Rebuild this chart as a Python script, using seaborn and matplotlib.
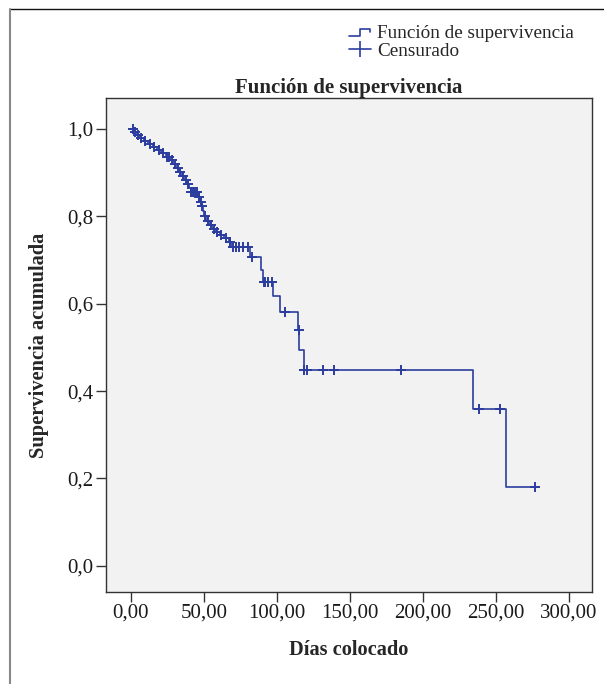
import numpy as np
import pandas as pd
import matplotlib
matplotlib.use("Agg")
import matplotlib.pyplot as plt
import seaborn as sns
from matplotlib.lines import Line2D
from matplotlib.legend_handler import HandlerBase
from matplotlib.ticker import FuncFormatter

# event times (days) and survival after each event
event_days = [0, 2, 4, 6, 9, 12, 15, 18, 21, 24, 27, 29, 31, 33, 35, 37, 38.5, 40, 41,
              46.5, 47.5, 48.5, 49.5, 50.5, 52, 54, 56, 58, 61, 64, 67, 69,
              82, 89.5, 90.5, 97.5, 102, 114.6, 115.5, 118.5, 234.7, 256.8]
survival = [1.0, 0.993, 0.986, 0.979, 0.972, 0.965, 0.958, 0.951, 0.944, 0.937, 0.928,
            0.919, 0.910, 0.901, 0.892, 0.883, 0.874, 0.865, 0.856,
            0.845, 0.834, 0.823, 0.812, 0.801, 0.790, 0.780, 0.772, 0.765, 0.758,
            0.750, 0.742, 0.731,
            0.708, 0.677, 0.650, 0.617, 0.582, 0.540, 0.494, 0.448, 0.359, 0.180]
# censored observations (days)
censored_days = [1.5, 3, 5, 7, 10, 13, 16, 19, 22, 25, 26, 28, 30, 32, 34, 36, 37.5, 39,
                 41.5, 42.5, 43.5, 44.5, 45.5, 47, 48, 49, 51, 53, 55, 57, 59, 62, 65,
                 68, 70, 72, 74, 77, 80, 83, 91, 92, 94, 97, 105.5, 115, 119, 121,
                 132, 139.5, 185.5, 238.6, 252.9, 277]

blue = "#2b3d9e"

curve = pd.DataFrame({"dias": event_days + [277], "surv": survival + [survival[-1]]})
idx = np.searchsorted(event_days, censored_days, side="right") - 1
cens = pd.DataFrame({"dias": censored_days, "surv": np.array(survival)[idx]})

sns.set_style("ticks")
plt.rcParams["font.family"] = ["Liberation Serif", "DejaVu Serif"]

fig = plt.figure(figsize=(6.04, 6.84), dpi=100)
ax = fig.add_axes([0.1755, 0.1345, 0.8045, 0.7222])
ax.set_facecolor("#f2f2f2")

sns.lineplot(data=curve, x="dias", y="surv", drawstyle="steps-post", color=blue,
             linewidth=1.2, estimator=None, sort=False, ax=ax)
sns.scatterplot(data=cens, x="dias", y="surv", marker="+", s=50, color=blue,
                linewidth=1.4, ax=ax, zorder=3)

ax.set_xlim(-17, 316)
ax.set_ylim(-0.06, 1.071)
ax.set_xticks([0, 50, 100, 150, 200, 250, 300])
ax.set_yticks([0, 0.2, 0.4, 0.6, 0.8, 1.0])
ax.xaxis.set_major_formatter(FuncFormatter(lambda v, p: f"{v:.2f}".replace(".", ",")))
ax.yaxis.set_major_formatter(FuncFormatter(lambda v, p: f"{v:.1f}".replace(".", ",")))
ax.tick_params(direction="out", length=7, width=1, color="#333333",
               labelsize=15, labelcolor="#1a1a1a")
ax.tick_params(axis="x", pad=1)
ax.tick_params(axis="y", pad=2)
for s in ax.spines.values():
    s.set_visible(True)
    s.set_color("#333333")
    s.set_linewidth(1)

ax.set_xlabel("Días colocado", fontsize=14.7, fontweight="bold", labelpad=13)
ax.set_ylabel("Supervivencia acumulada", fontsize=14.7, fontweight="bold", labelpad=13)
ax.set_title("Función de supervivencia", fontsize=15, fontweight="bold", pad=2)


class StepHandler(HandlerBase):
    def create_artists(self, legend, orig_handle, xdescent, ydescent, width, height,
                       fontsize, trans):
        x0, x1 = -xdescent, -xdescent + width
        xm = x0 + width * 0.5
        y0, y1 = -ydescent + height * 0.2, -ydescent + height * 0.7
        line = Line2D([x0, xm, xm, x1 - 1, x1 - 1], [y0, y0, y1, y1, y1 - height * 0.2],
                      color=blue, linewidth=1.2, transform=trans)
        return [line]


step_handle = Line2D([], [], color=blue)
cens_handle = Line2D([], [], color=blue, marker="|", linestyle="-", linewidth=1.2,
                     markersize=11, markeredgewidth=1.2)
fig.legend([step_handle, cens_handle], ["Función de supervivencia", "Censurado"],
           handler_map={step_handle: StepHandler()}, numpoints=1,
           loc="upper left", bbox_to_anchor=(349 / 604, 1 - 25 / 684),
           frameon=False, fontsize=13.8, handlelength=1.15, handletextpad=0.3,
           labelspacing=0.0, borderpad=0, borderaxespad=0)

# frame lines at top and left of the figure
fig.add_artist(Line2D([10 / 604, 1], [1 - 9 / 684, 1 - 9 / 684], color="#111111",
                      linewidth=1, transform=fig.transFigure))
fig.add_artist(Line2D([9.5 / 604, 9.5 / 604], [0, 1 - 9 / 684], color="#888888",
                      linewidth=1.5, transform=fig.transFigure))

fig.savefig("out.png", dpi=100)
